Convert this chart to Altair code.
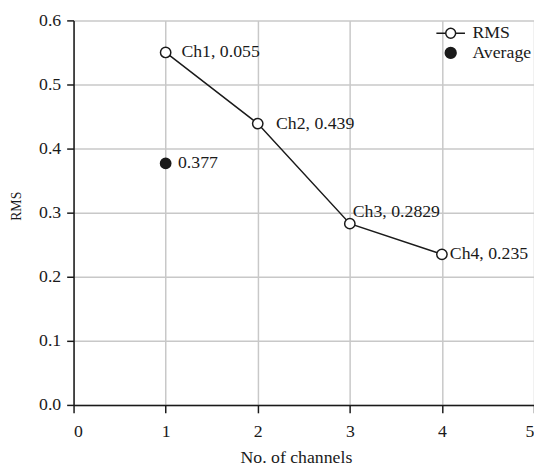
import altair as alt
import pandas as pd

# ---- data ----
channels = [1, 2, 3, 4]
rms_values = [0.55, 0.439, 0.2829, 0.235]
rms_labels = ["Ch1, 0.055", "Ch2, 0.439", "Ch3, 0.2829", "Ch4, 0.235"]

avg_channels = [1]
avg_values = [0.377]
avg_labels = ["0.377"]

x_ticks = [0, 1, 2, 3, 4, 5]
y_ticks = [0.0, 0.1, 0.2, 0.3, 0.4, 0.5, 0.6]

# ---- tables ----
rms_df = pd.DataFrame({"x": channels, "y": rms_values, "label": rms_labels, "series": "RMS"})
avg_df = pd.DataFrame({"x": avg_channels, "y": avg_values, "label": avg_labels, "series": "Average"})
points_df = pd.concat([rms_df, avg_df], ignore_index=True)

FONT = "Liberation Serif"
INK = "#1a1a1a"

x_enc = alt.X("x:Q", scale=alt.Scale(domain=[0, 5], nice=False),
              axis=alt.Axis(values=x_ticks, format="d", title="No. of channels",
                            titleX=225.5, titleY=58.4, titleAnchor="middle",
                            titleAlign="center", titleBaseline="alphabetic",
                            tickSize=8, labelPadding=10, titleFontSize=18))
y_enc = alt.Y("y:Q", scale=alt.Scale(domain=[0, 0.6], nice=False),
              axis=alt.Axis(values=y_ticks, format=".1f", title="RMS",
                            titleX=-58, titleY=188, titleAngle=270,
                            titleAlign="center", titleBaseline="middle",
                            tickSize=7, labelPadding=6, titleFontSize=14))

line = alt.Chart(rms_df).mark_line(color=INK, strokeWidth=1.5).encode(x=x_enc, y=y_enc)

rms_path = ("M-1.45,0L-0.5,0M0.5,0L1.45,0M0.5,0"
            "A0.5,0.5,0,1,1,-0.5,0A0.5,0.5,0,1,1,0.5,0")
dot_path = "M0.55,0A0.55,0.55,0,1,1,-0.55,0A0.55,0.55,0,1,1,0.55,0"

legend = alt.Legend(
    orient="none", legendX=371.5, legendY=2, title=None,
    labelFont=FONT, labelFontSize=18, labelColor=INK,
    symbolSize=400, symbolStrokeColor=INK, symbolStrokeWidth=1.5,
    symbolOpacity=1, labelOffset=11, rowPadding=0, padding=0,
    symbolType={"expr": f"datum.value === 'RMS' ? '{rms_path}' : '{dot_path}'"},
)

points = alt.Chart(points_df).mark_point(
    filled=True, shape="circle", size=110, stroke=INK, strokeWidth=1.5, opacity=1
).encode(
    x="x:Q", y="y:Q",
    fill=alt.Fill("series:N",
                  scale=alt.Scale(domain=["RMS", "Average"], range=["white", INK]),
                  legend=legend),
)

label_offsets = {
    "Ch1, 0.055": (16, 0),
    "Ch2, 0.439": (18.5, 0),
    "Ch3, 0.2829": (3, -11.5),
    "Ch4, 0.235": (8, 0),
    "0.377": (12.5, 0),
}

text_layers = []
for lab, (dx, dy) in label_offsets.items():
    text_layers.append(
        alt.Chart(points_df).transform_filter(alt.datum.label == lab)
        .mark_text(align="left", baseline="middle", dx=dx, dy=dy,
                   font=FONT, fontSize=18, color=INK)
        .encode(x="x:Q", y="y:Q", text="label:N")
    )

chart = alt.layer(line, points, *text_layers).properties(
    width=467, height=390,
    autosize=alt.AutoSizeParams(type="none"),
    padding={"left": 66.5, "top": 9.3, "right": 0, "bottom": 62},
).configure_view(stroke=None).configure_axis(
    labelFont=FONT, titleFont=FONT, labelFontSize=18,
    labelColor=INK, titleColor=INK, titleFontWeight="normal",
    domainColor=INK, domainWidth=1.5, tickColor=INK, tickWidth=1.5,
    gridColor="#c8c8c8", gridWidth=1.5,
)

chart.save("out.html", embed_options={"renderer": "svg", "actions": False})
